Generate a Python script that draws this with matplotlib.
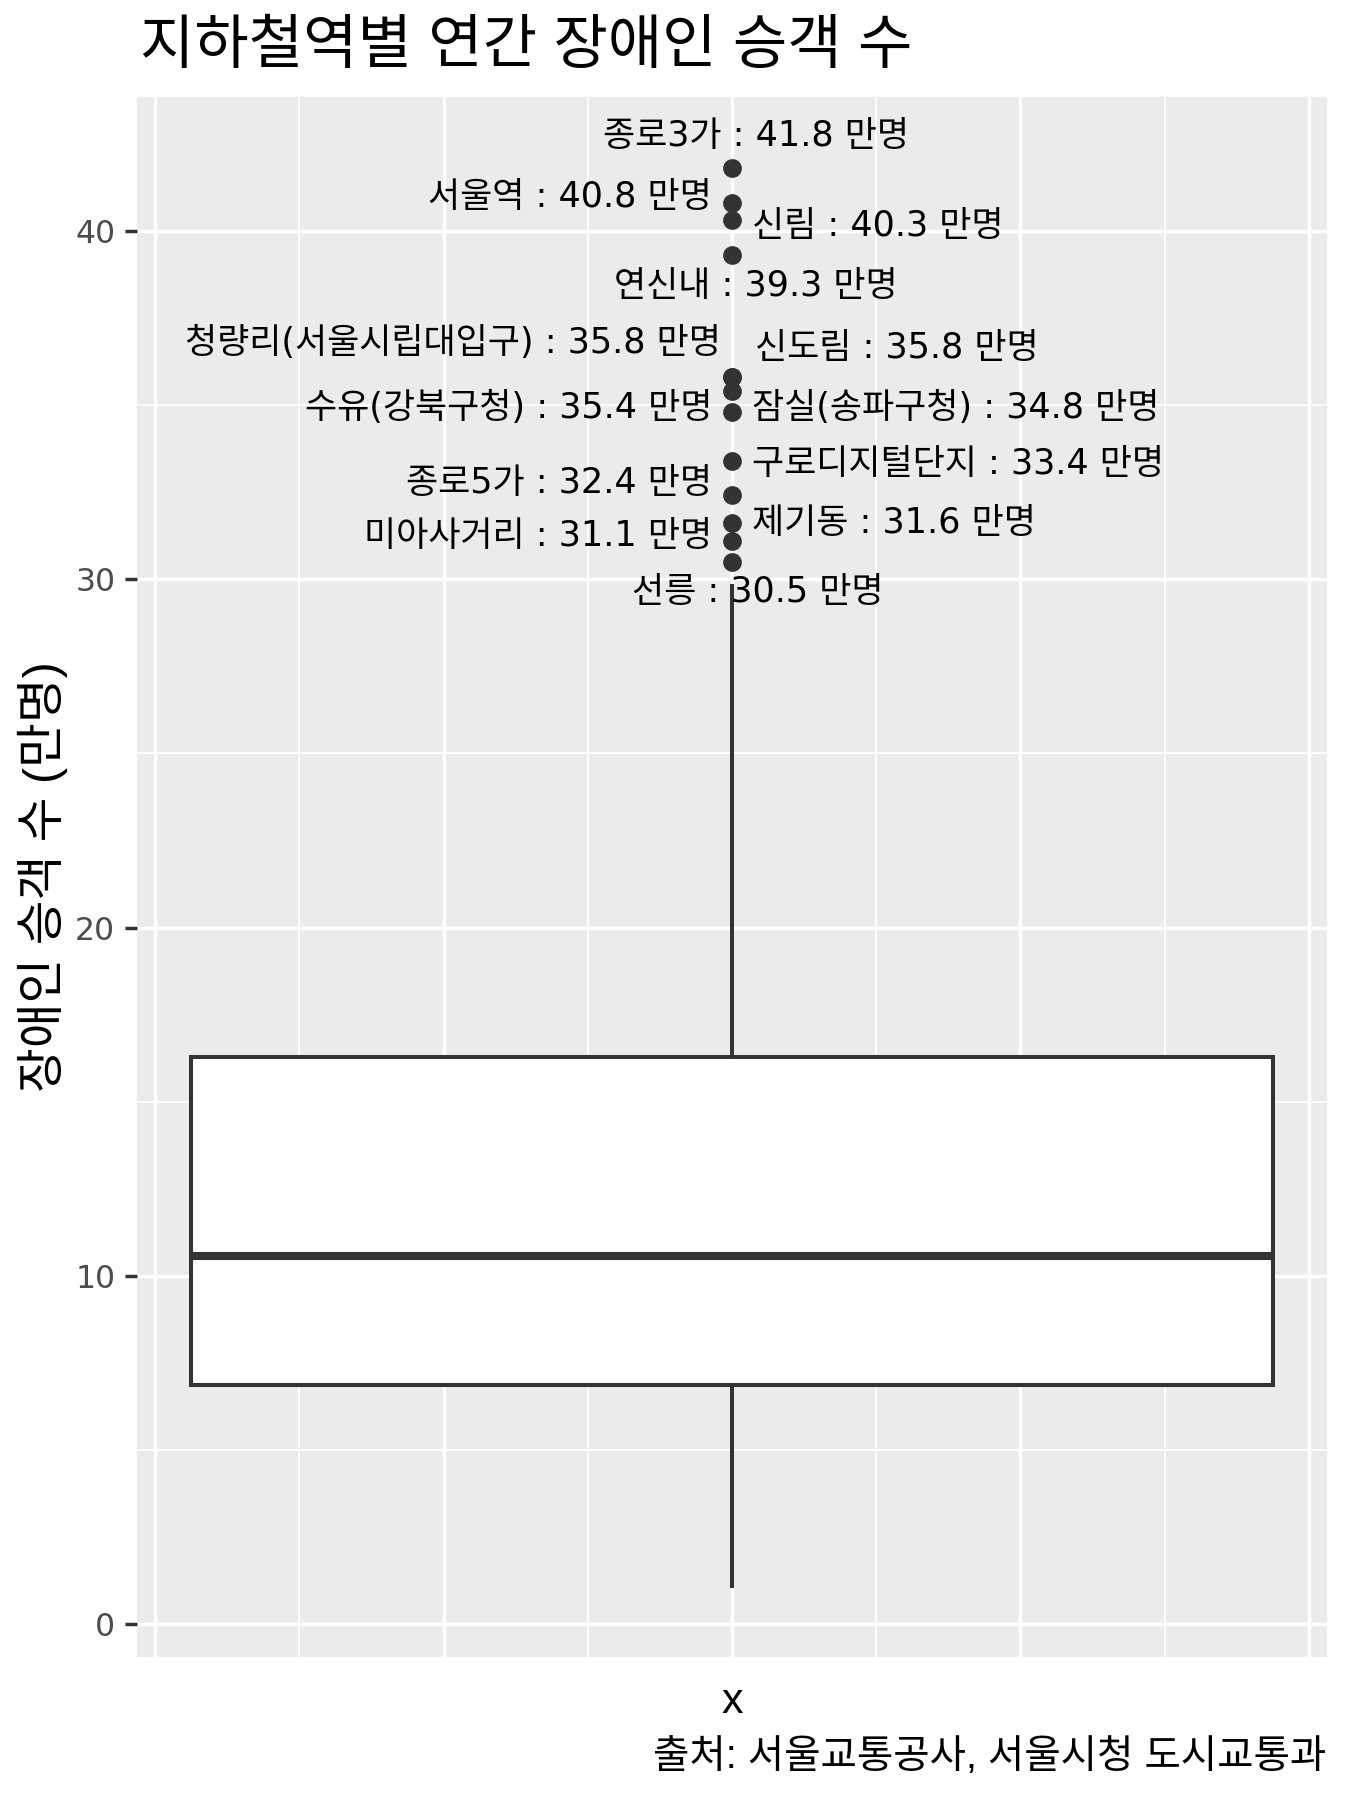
import matplotlib
matplotlib.use("Agg")
import matplotlib.pyplot as plt
from matplotlib.ticker import MultipleLocator

# ---------------- data ----------------
title = "지하철역별 연간 장애인 승객 수"
ylabel = "장애인 승객 수 (만명)"
xlabel = "x"
caption = "출처: 서울교통공사, 서울시청 도시교통과"

# box summary (만명)
box_q1 = 6.88
box_median = 10.57
box_q3 = 16.28
whisker_low = 1.1
whisker_high = 29.8

# outlier stations and values (만명)
stations = ["종로3가", "서울역", "신림", "연신내", "청량리(서울시립대입구)", "신도림",
            "수유(강북구청)", "잠실(송파구청)", "구로디지털단지", "종로5가", "제기동",
            "미아사거리", "선릉"]
outliers = [41.8, 40.8, 40.3, 39.3, 35.8, 35.8, 35.4, 34.8, 33.4, 32.4, 31.6, 31.1, 30.5]

y_ticks = [0, 10, 20, 30, 40]

# label layout (repelled positions): horizontal alignment, x (axis units), y (axis units)
label_layout = [
    ("center", 0.0164, 42.71),
    ("right", -0.0139, 40.97),
    ("left", 0.0140, 40.14),
    ("center", 0.0164, 38.40),
    ("right", -0.0074, 36.79),
    ("left", 0.0156, 36.62),
    ("right", -0.0139, 34.91),
    ("left", 0.0140, 34.91),
    ("left", 0.0140, 33.30),
    ("right", -0.0139, 32.77),
    ("left", 0.0140, 31.62),
    ("right", -0.0139, 31.23),
    ("center", 0.0176, 29.62),
]

# ---------------- style ----------------
LFONT = ["DejaVu Sans", "Noto Sans CJK KR"]
KFONT = ["Liberation Sans", "Noto Sans CJK KR"]
plt.rcParams["font.family"] = KFONT
DARK = "#333333"

fig = plt.figure(figsize=(13.5, 18), dpi=100)
ax = fig.add_axes([137 / 1350, 1 - 1657 / 1800, (1327 - 137) / 1350, (1657 - 97) / 1800])
ax.set_facecolor("#EBEBEB")
for s in ax.spines.values():
    s.set_visible(False)

stats = [dict(med=box_median, q1=box_q1, q3=box_q3, whislo=whisker_low,
              whishi=whisker_high, fliers=outliers)]
ax.bxp(stats, positions=[0], widths=0.75, patch_artist=True, showcaps=False,
       boxprops=dict(facecolor="white", edgecolor=DARK, linewidth=2.9),
       medianprops=dict(color=DARK, linewidth=5.8, solid_capstyle="butt"),
       whiskerprops=dict(color=DARK, linewidth=2.9),
       flierprops=dict(marker="o", markersize=13.5, markerfacecolor=DARK,
                       markeredgecolor="none", linestyle="none"),
       zorder=3)

for name, val, (ha, lx, ly) in zip(stations, outliers, label_layout):
    ax.text(lx, ly, f"{name} : {val:.1f} 만명", ha=ha, va="center",
            fontsize=25.2, color="black", family=LFONT, zorder=4)

lo = whisker_low
hi = max(outliers)
pad = 0.05 * (hi - lo)
ax.set_ylim(lo - pad, hi + pad)
ax.set_xlim(-0.4125, 0.4125)

ax.set_yticks(y_ticks)
ax.yaxis.set_minor_locator(MultipleLocator(5))
ax.xaxis.set_major_locator(MultipleLocator(0.2))
ax.xaxis.set_minor_locator(MultipleLocator(0.1))
ax.grid(which="major", color="white", linewidth=2.5)
ax.grid(which="minor", color="white", linewidth=1.3)
ax.set_axisbelow(True)
ax.tick_params(axis="y", which="major", length=8.6, width=2.5, color=DARK,
               labelsize=22.7, labelcolor="#4D4D4D", pad=7)
for t in ax.get_yticklabels():
    t.set_family(LFONT)
ax.tick_params(axis="y", which="minor", length=0)
ax.tick_params(axis="x", which="both", length=0, labelbottom=False)

ax.set_xlabel(xlabel, fontsize=31, color="black", labelpad=18)

fig.text(42.5 / 1350, 1 - 877 / 1800, ylabel, fontsize=35, rotation=90,
         ha="center", va="center", color="black")
fig.text(140 / 1350, 1 - 48 / 1800, title, fontsize=42.6, ha="left", va="center",
         color="black")
fig.text(1326 / 1350, 1 - 1757 / 1800, caption, fontsize=28.5, ha="right", va="center",
         color="black")

fig.savefig("out.png", dpi=100)
